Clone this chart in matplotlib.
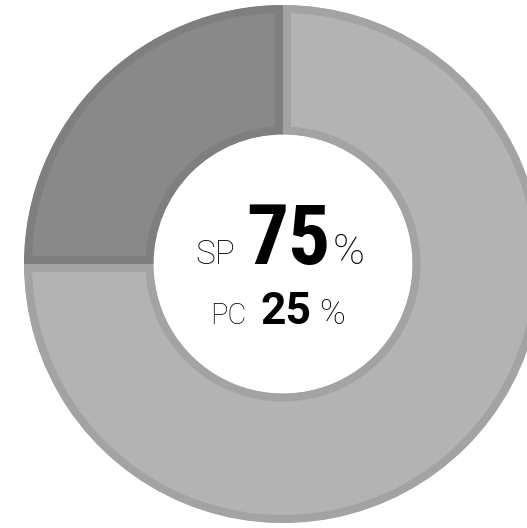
import matplotlib.pyplot as plt
from matplotlib.patches import Wedge

# shares of the ring
labels = ['SP', 'PC']
values = [75, 25]
fills = ['#b3b3b3', '#898989']
borders = ['#a3a3a3', '#7f7f7f']

fig = plt.figure(figsize=(5.27, 5.28), dpi=100)
ax = fig.add_axes([0, 0, 1, 1])

cx, cy, r = 283, 264, 259
wedges, _ = ax.pie(values, center=(cx, cy), radius=r, startangle=90,
                   counterclock=False, colors=fills,
                   wedgeprops=dict(width=r * 0.5, linewidth=11.5))
ax.set_xlim(0, 527)
ax.set_ylim(0, 528)
ax.set_aspect('equal')
ax.axis('off')
for w, ec in zip(wedges, borders):
    w.set_edgecolor(ec)
    # keep the stroke inside the slice
    clip = Wedge(w.center, w.r, w.theta1, w.theta2, width=w.width,
                 transform=ax.transData)
    w.set_clip_on(True)
    w.set_clip_path(clip)

# centre text
def txt(x, y, s, size, weight, fam='Roboto'):
    ax.text(x, y, s, fontsize=size, fontweight=weight,
            family=[fam, 'Roboto'],
            ha='left', va='baseline', color='black')

txt(195, 264, labels[0], 24, 'light')
txt(246, 264, f'{values[0]}', 60, 'bold', 'Roboto Condensed')
txt(333, 264, '%', 31, 'light')
txt(210, 204, labels[1], 21, 'light')
txt(261, 204, f'{values[1]}', 32, 'bold')
txt(319, 204, '%', 25, 'light')

fig.savefig('out.png', dpi=100)
